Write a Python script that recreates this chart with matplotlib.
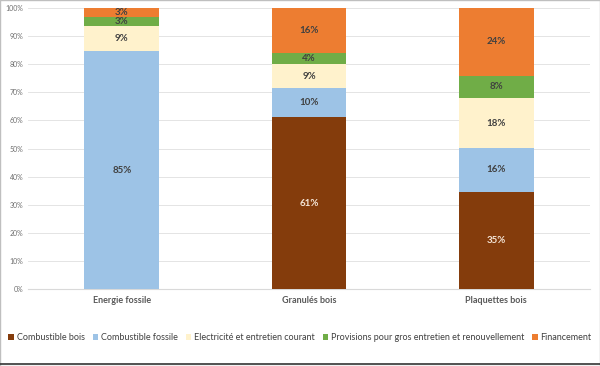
import matplotlib
matplotlib.use("Agg")
import matplotlib.pyplot as plt
import numpy as np

plt.rcParams['font.family'] = ['Lato', 'DejaVu Sans']

categories = ["Energie fossile", "Granulés bois", "Plaquettes bois"]
series_names = ["Combustible bois", "Combustible fossile", "Electricité et entretien courant",
                "Provisions pour gros entretien et renouvellement", "Financement"]
combustible_bois = [0.0, 61.2, 34.7]
combustible_fossile = [84.6, 10.3, 15.6]
electricite = [8.9, 8.6, 17.6]
provisions = [3.3, 3.9, 8.1]
financement = [3.2, 16.0, 24.0]
colors = ["#843C0C", "#9DC3E6", "#FFF2CC", "#70AD47", "#ED7D31"]
label_colors = ["#F5E6D8", "#404040", "#404040", "#404040", "#404040"]
series = [combustible_bois, combustible_fossile, electricite, provisions, financement]

fig = plt.figure(figsize=(6.0, 3.66), dpi=100)
ax = fig.add_axes([0.047, 0.21, 0.936, 0.768])
x = np.arange(len(categories))
bottom = np.zeros(len(categories))
for name, vals, c, lc in zip(series_names, series, colors, label_colors):
    vals = np.array(vals)
    ax.bar(x, vals, 0.4, bottom=bottom, color=c, label=name, zorder=3)
    for xi, v, b in zip(x, vals, bottom):
        if v > 0:
            ax.text(xi, b + v / 2, f"{int(np.floor(v + 0.5))}%", ha='center', va='center',
                    fontsize=7, fontweight='bold', color=lc, zorder=4)
    bottom += vals

ax.set_xlim(-0.5, 2.5)
ax.set_ylim(0, 100)
ax.set_yticks(np.arange(0, 101, 10))
ax.set_yticklabels([f"{t}%" for t in range(0, 101, 10)], fontsize=5, color='#6F6F6F')
ax.set_xticks(x)
ax.set_xticklabels(categories, fontsize=6.5, fontweight='bold', color='#595959')
ax.tick_params(axis='both', length=0)
ax.tick_params(axis='x', pad=5)
ax.grid(axis='y', color='#E4E4E4', linewidth=0.7, zorder=0)
for s in ['top', 'right', 'left']:
    ax.spines[s].set_visible(False)
ax.spines['bottom'].set_color('#D9D9D9')

fig.legend(loc='center', bbox_to_anchor=(0.5, 0.078), ncol=5, fontsize=6.5, frameon=False,
           handlelength=0.6, handleheight=0.6, handletextpad=0.3, columnspacing=0.9,
           labelcolor='#404040')

fig.add_artist(plt.Rectangle((0.0, 0.0), 1.0, 1.0, transform=fig.transFigure,
                             fill=False, edgecolor='#BFBFBF', linewidth=1.0))
fig.add_artist(plt.Line2D([0, 1], [0.006, 0.006], transform=fig.transFigure,
                          color='#333333', linewidth=1.2))
fig.savefig("out.png", dpi=100)
